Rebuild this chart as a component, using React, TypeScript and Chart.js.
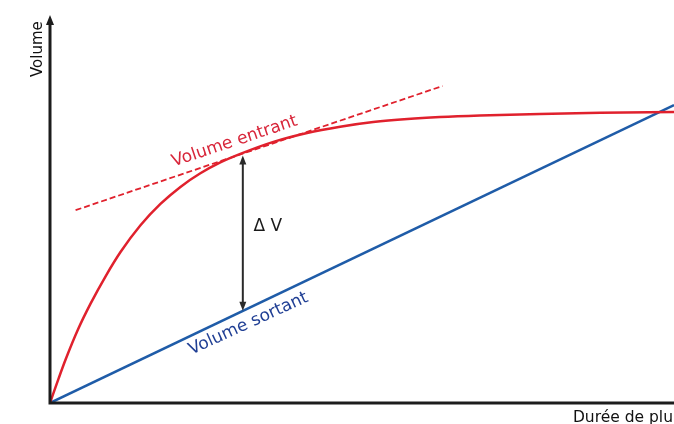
import { useEffect, useRef } from "react";
import { Chart, registerables } from "chart.js";

Chart.register(...registerables);

// Duration (x, 0..100) and volumes (y, 0..100)
const DURATION = [0, 1.4, 2.5, 4.5, 6.5, 9, 11.3, 14.5, 17.7, 20.9, 24.1, 27.3, 30.5, 35.8, 41.2, 46.5, 51.8, 57.3, 62.5, 68.9, 78.5, 88.2, 100];
const VOLUME_IN = [0, 6.4, 11.2, 19.0, 25.6, 32.9, 38.9, 45.8, 51.3, 55.7, 59.2, 62.0, 64.2, 67.3, 69.6, 71.2, 72.4, 73.2, 73.7, 74.1, 74.5, 74.8, 75.0];
const OUT_X = [0, 100];
const VOLUME_OUT = [0, 76.8];
const TANGENT_X = [4.1, 62.9];
const TANGENT_Y = [49.7, 81.7];
const DELTA_X = 30.9;
const DELTA_TOP = 63.8;
const DELTA_BOTTOM = 23.8;

const X_MAX = 100;
const Y_MAX = 100;

const LABEL_IN = "Volume entrant";
const LABEL_OUT = "Volume sortant";
const LABEL_DELTA = "\u0394 V";
const AXIS_Y = "Volume";
const AXIS_X = "Durée de pluie";

const RED = "#e0212d";
const BLUE = "#1f5ca8";

const FONT = '"DejaVu Sans", Verdana, sans-serif';

function drawText(ctx: CanvasRenderingContext2D, text: string, x: number, y: number, angleDeg: number, font: string, color: string, align: CanvasTextAlign = "center", baseline: CanvasTextBaseline = "middle") {
  ctx.save();
  ctx.translate(x, y);
  ctx.rotate((angleDeg * Math.PI) / 180);
  ctx.font = font;
  ctx.fillStyle = color;
  ctx.textAlign = align;
  ctx.textBaseline = baseline;
  ctx.fillText(text, 0, 0);
  ctx.restore();
}

function arrowHead(ctx: CanvasRenderingContext2D, x: number, y: number, dir: number, w: number, h: number) {
  ctx.beginPath();
  ctx.moveTo(x, y);
  ctx.lineTo(x - w / 2, y - dir * h);
  ctx.lineTo(x + w / 2, y - dir * h);
  ctx.closePath();
  ctx.fill();
}

const annotations = {
  id: "annotations",
  afterDatasetsDraw(chart: any) {
    const ctx: CanvasRenderingContext2D = chart.ctx;
    const xs = chart.scales.x;
    const ys = chart.scales.y;
    const x0 = xs.getPixelForValue(0);
    const y0 = ys.getPixelForValue(0);
    const yTop = ys.getPixelForValue(Y_MAX);
    ctx.save();
    // axes
    ctx.strokeStyle = "#1c1c1c";
    ctx.fillStyle = "#1c1c1c";
    ctx.lineWidth = 3;
    ctx.beginPath();
    ctx.moveTo(x0, yTop + 7);
    ctx.lineTo(x0, y0);
    ctx.lineTo(chart.width, y0);
    ctx.stroke();
    arrowHead(ctx, x0, yTop, -1, 8, 10);

    // Delta V arrow
    const dx = xs.getPixelForValue(DELTA_X);
    const dTop = ys.getPixelForValue(DELTA_TOP);
    const dBot = ys.getPixelForValue(DELTA_BOTTOM);
    ctx.strokeStyle = "#2a2a2a";
    ctx.fillStyle = "#2a2a2a";
    ctx.lineWidth = 2;
    ctx.beginPath();
    ctx.moveTo(dx, dTop + 6);
    ctx.lineTo(dx, dBot - 6);
    ctx.stroke();
    arrowHead(ctx, dx, dTop, -1, 7, 9);
    arrowHead(ctx, dx, dBot, 1, 7, 9);

    // labels
    drawText(ctx, LABEL_DELTA, dx + 25, ys.getPixelForValue(45.4), 0, `17px ${FONT}`, "#1a1a1a");
    drawText(ctx, LABEL_IN, xs.getPixelForValue(29.6), ys.getPixelForValue(67.4), -18.5, `17px ${FONT}`, "#d8263a");
    drawText(ctx, LABEL_OUT, xs.getPixelForValue(31.8), ys.getPixelForValue(20.4), -24.5, `17px ${FONT}`, "#203f94");
    drawText(ctx, AXIS_Y, x0 - 11.5, ys.getPixelForValue(91.2), -90, `15px ${FONT}`, "#111");
    drawText(ctx, AXIS_X, xs.getPixelForValue(83.8), y0 + 18.5, 0, `15.5px ${FONT}`, "#111", "left", "alphabetic");
    ctx.restore();
  },
};

export default function App() {
  const ref = useRef<HTMLCanvasElement | null>(null);
  useEffect(() => {
    if (!ref.current) return;
    const chart = new Chart(ref.current, {
      type: "line",
      data: {
        datasets: [
          {
            label: LABEL_IN,
            data: DURATION.map((x, i) => ({ x, y: VOLUME_IN[i] })),
            borderColor: RED,
            borderWidth: 2.5,
            pointRadius: 0,
            cubicInterpolationMode: "monotone",
            fill: false,
          },
          {
            label: LABEL_OUT,
            data: OUT_X.map((x, i) => ({ x, y: VOLUME_OUT[i] })),
            borderColor: BLUE,
            borderWidth: 2.5,
            pointRadius: 0,
            fill: false,
          },
          {
            label: "tangente",
            data: TANGENT_X.map((x, i) => ({ x, y: TANGENT_Y[i] })),
            borderColor: RED,
            borderWidth: 1.8,
            borderDash: [6, 3],
            pointRadius: 0,
            fill: false,
          },
        ],
      },
      options: {
        responsive: false,
        animation: false,
        layout: { padding: { left: 50, right: 0, top: 15, bottom: 21 } },
        plugins: { legend: { display: false }, tooltip: { enabled: false } },
        scales: {
          x: { type: "linear", min: 0, max: X_MAX, display: false },
          y: { type: "linear", min: 0, max: Y_MAX, display: false },
        },
      },
      plugins: [annotations],
    });
    return () => chart.destroy();
  }, []);
  return (
    <div style={{ position: "absolute", left: 0, top: 0, width: 674, height: 424, background: "#fff" }}>
      <canvas ref={ref} width={674} height={424} />
    </div>
  );
}
